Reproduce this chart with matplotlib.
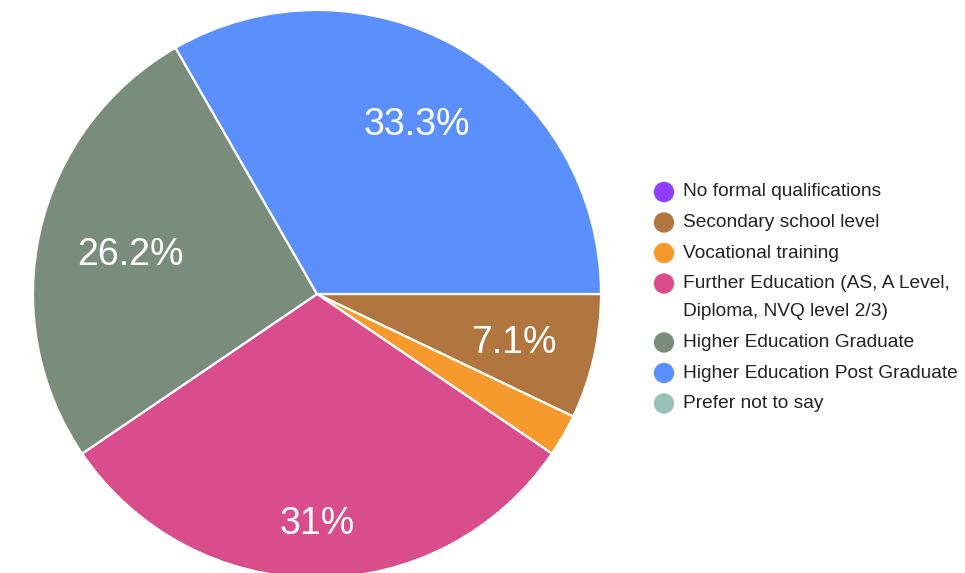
import numpy as np
import matplotlib
matplotlib.use("Agg")
import matplotlib.pyplot as plt

categories = [
    "No formal qualifications",
    "Secondary school level",
    "Vocational training",
    "Further Education (AS, A Level,\nDiploma, NVQ level 2/3)",
    "Higher Education Graduate",
    "Higher Education Post Graduate",
    "Prefer not to say",
]
percentages = [0.0, 7.1, 2.4, 31.0, 26.2, 33.3, 0.0]
colors = ["#8f3dff", "#b1753f", "#f69a2d", "#da4d8d", "#7a8d7d", "#5a8ffc", "#97c2b5"]
label_dist = [0.7, 0.71, 0.7, 0.795, 0.675, 0.705, 0.7]

plt.rcParams['font.family'] = ['Liberation Sans', 'DejaVu Sans']

W, H = 965, 573
fig = plt.figure(figsize=(W / 100, H / 100), dpi=100)

cx, cy, r = 317, 294, 284
ax = fig.add_axes([(cx - r) / W, (H - cy - r) / H, 2 * r / W, 2 * r / H])
ax.axis('off')

idx = [i for i, v in enumerate(percentages) if v > 0]
wedges, _ = ax.pie([percentages[i] for i in idx], colors=[colors[i] for i in idx],
                   startangle=0, counterclock=False, radius=1,
                   wedgeprops=dict(edgecolor='white', linewidth=1.6))
ax.set_xlim(-1, 1)
ax.set_ylim(-1, 1)
ax.set_aspect('equal')

for w, i in zip(wedges, idx):
    p = percentages[i]
    if p < 5:
        continue
    mid = np.deg2rad((w.theta1 + w.theta2) / 2)
    d = label_dist[i]
    txt = f"{p:.1f}".rstrip('0').rstrip('.') + '%'
    ax.annotate(txt, (d * np.cos(mid), d * np.sin(mid)), xytext=(0, -3),
                textcoords='offset points', ha='center', va='center',
                color='white', fontsize=27)

# legend
mx, tx = 664, 683
y = 192
for i, cat in enumerate(categories):
    fig.patches.append(matplotlib.patches.Ellipse((mx / W, 1 - y / H), 19 / W, 19 / H,
                       transform=fig.transFigure, color=colors[i]))
    lines = cat.split("\n")
    for j, ln in enumerate(lines):
        fig.text(tx / W, 1 - (y + j * 28.5) / H, ln, ha='left', va='center',
                 fontsize=13.8, color='#222222')
    y += 30.5 + (len(lines) - 1) * 28.5

fig.savefig("out.png", dpi=100)
